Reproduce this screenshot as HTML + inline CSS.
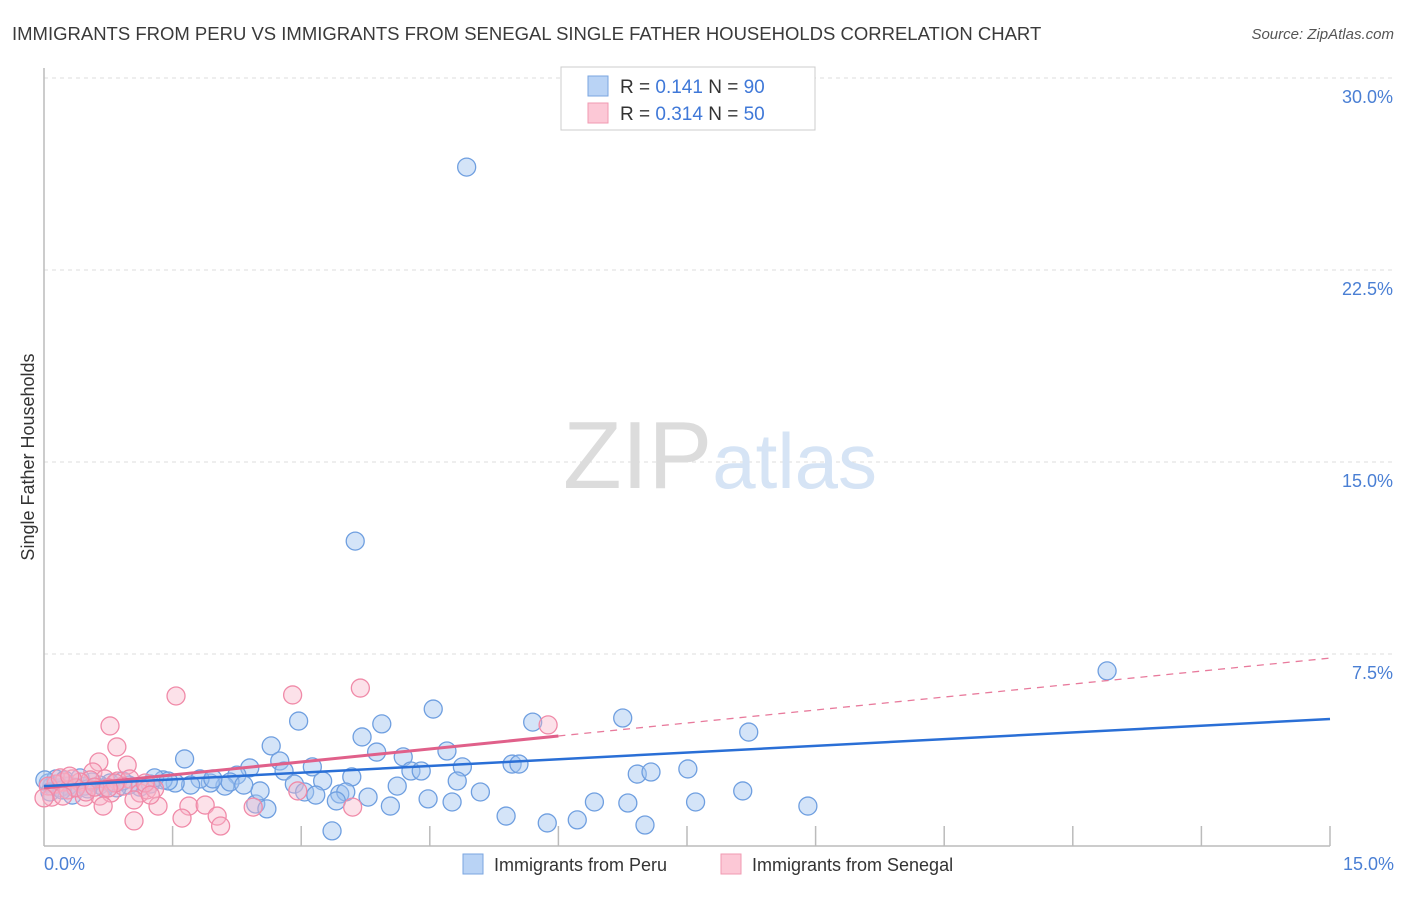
<!DOCTYPE html>
<html><head><meta charset="utf-8"><style>
body{margin:0;background:#fff;font-family:"Liberation Sans",sans-serif}
svg text{font-family:"Liberation Sans",sans-serif}
</style></head><body>
<svg id="chart" width="1406" height="892" viewBox="0 0 1406 892" xmlns="http://www.w3.org/2000/svg">
<text x="12" y="40" font-size="18.5" fill="#3a3a3a">IMMIGRANTS FROM PERU VS IMMIGRANTS FROM SENEGAL SINGLE FATHER HOUSEHOLDS CORRELATION CHART</text>
<text x="1394" y="39" font-size="15" fill="#555" font-style="italic" text-anchor="end">Source: ZipAtlas.com</text>
<g id="grid"></g>
<text x="720" y="488" font-size="96" text-anchor="middle" fill="#e6e6e6" font-family="Liberation Serif, serif"><tspan fill="#dcdcdc">ZIP</tspan><tspan fill="#d6e4f5" font-family="Liberation Sans, sans-serif" font-size="78">atlas</tspan></text>
<line x1="44" y1="68" x2="44" y2="846" stroke="#bbb" stroke-width="1.5"/>
<line x1="44" y1="846" x2="1330" y2="846" stroke="#bbb" stroke-width="1.5"/>
<g id="ticks"></g>
<g id="pts"></g>
<g id="trends"></g>
<text transform="translate(34,457) rotate(-90)" font-size="18" fill="#333" text-anchor="middle">Single Father Households</text>
<text x="44" y="870" font-size="18" fill="#4a7fd4">0.0%</text>
<text x="1394" y="870" font-size="18" fill="#4a7fd4" text-anchor="end">15.0%</text>
<g>
<rect x="561" y="67" width="254" height="63" fill="#fff" stroke="#ccc"/>
<rect x="588" y="76" width="20" height="20" fill="#b9d3f5" stroke="#7aa6e0"/>
<rect x="588" y="103" width="20" height="20" fill="#fcc8d6" stroke="#f09ab2"/>
<text x="620" y="93" font-size="19" fill="#333">R = <tspan fill="#3f78d8">0.141</tspan>   N = <tspan fill="#3f78d8">90</tspan></text>
<text x="620" y="120" font-size="19" fill="#333">R = <tspan fill="#3f78d8">0.314</tspan>   N = <tspan fill="#3f78d8">50</tspan></text>
</g>
<g>
<rect x="463" y="854" width="20" height="20" fill="#b9d3f5" stroke="#7aa6e0"/>
<text x="494" y="871" font-size="18" fill="#333">Immigrants from Peru</text>
<rect x="721" y="854" width="20" height="20" fill="#fcc8d6" stroke="#f09ab2"/>
<text x="752" y="871" font-size="18" fill="#333">Immigrants from Senegal</text>
</g>
</svg>
<script>
const peruX=[4.93,3.63,12.40,4.54,2.97,3.94,5.70,6.75,3.71,8.22,2.65,4.70,1.64,3.88,4.19,2.75,3.13,4.88,5.46,5.54,2.40,4.28,4.40,6.92,7.08,7.51,2.80,2.25,3.59,3.25,2.92,4.82,8.15,5.09,4.12,3.04,3.17,3.45,3.52,3.78,4.48,4.76,6.42,6.81,7.60,8.91,4.04,3.41,2.47,2.60,5.39,5.87,6.22,7.01,3.36,2.52,2.11,1.94,1.82,1.71,1.53,1.39,1.24,1.12,0.99,0.85,0.77,0.65,0.56,0.48,0.37,0.28,0.19,0.09,0.05,0.14,0.33,0.70,0.92,1.29,1.45,2.17,1.97,2.33,0.24,0.42,0.01,0.07,0.21,0.51];
const peruY=[26.52,11.91,6.84,5.35,4.88,4.77,4.84,5.00,4.26,4.45,3.91,3.71,3.40,3.67,3.48,3.32,3.09,3.09,3.20,3.20,3.05,2.93,2.93,2.81,2.89,3.01,2.93,2.77,2.70,2.54,2.42,2.54,2.15,2.11,2.34,2.11,1.99,2.03,2.11,1.91,1.84,1.72,1.72,1.68,1.72,1.56,1.56,1.76,1.64,1.45,1.17,0.90,1.02,0.82,0.59,2.15,2.34,2.46,2.62,2.38,2.46,2.58,2.42,2.30,2.38,2.27,2.46,2.38,2.50,2.34,2.30,2.34,2.27,2.34,2.46,2.62,1.99,2.27,2.54,2.66,2.54,2.50,2.62,2.38,2.58,2.66,2.58,2.11,2.19,2.23];
const senX=[1.54,2.90,3.69,0.77,0.85,0.97,0.64,5.88,0.57,0.71,0.86,1.00,0.54,0.42,0.33,0.23,0.14,0.05,0.09,0.47,0.65,0.78,1.12,1.20,1.29,1.05,1.33,1.69,1.88,2.02,1.61,2.06,1.05,0.69,0.92,0.28,0.19,0.37,0.49,0.59,2.44,3.60,2.96,0.00,0.22,0.30,0.83,1.18,1.24,0.75];
const senY=[5.86,5.90,6.17,4.69,3.87,3.16,3.28,4.73,2.89,2.62,2.54,2.62,2.58,2.50,2.62,2.50,2.42,2.34,1.91,1.91,1.95,2.07,2.07,2.19,2.23,1.80,1.56,1.56,1.60,1.17,1.09,0.78,0.98,1.56,2.34,2.19,2.66,2.27,2.11,2.30,1.52,1.52,2.15,1.88,1.95,2.73,2.46,2.46,1.99,2.27];
const yTicks=[7.5,15,22.5,30];
const yTickLabels=["7.5%","15.0%","22.5%","30.0%"];
const xTicks=[1.5,3,4.5,6,7.5,9,10.5,12,13.5,15];
const peruTrend=[2.34,4.96];
const senTrend=[2.27,7.34];
const senSolidEnd=6.0;

const NS="http://www.w3.org/2000/svg";
const xs=v=>44+v/15*1286;
const ys=v=>846-v/30*768;
function mk(tag,attrs,parent){const e=document.createElementNS(NS,tag);for(const k in attrs)e.setAttribute(k,attrs[k]);parent.appendChild(e);return e;}
const grid=document.getElementById('grid'),ticks=document.getElementById('ticks'),pts=document.getElementById('pts'),tr=document.getElementById('trends');
yTicks.forEach((v,i)=>{
  const l=mk('line',{x1:44,x2:1394,y1:ys(v),y2:ys(v),stroke:'#ddd','stroke-dasharray':'4,4'},grid);
  
  
  const t=mk('text',{x:1393,y:ys(v)+25,'font-size':18,fill:'#4a7fd4','text-anchor':'end'},grid);
  
  
  t.textContent=yTickLabels[i];
});
xTicks.forEach(v=>{
  const l=mk('line',{x1:xs(v),x2:xs(v),y1:826,y2:846,stroke:'#bbb','stroke-width':1.5},ticks);
  
  
});
peruX.forEach((x,i)=>{
  const c=mk('circle',{cx:xs(x),cy:ys(peruY[i]),r:9,fill:'rgba(160,196,240,0.45)',stroke:'#6f9fe0','stroke-width':1.3},pts);
  
  
});
senX.forEach((x,i)=>{
  const c=mk('circle',{cx:xs(x),cy:ys(senY[i]),r:9,fill:'rgba(248,180,200,0.4)',stroke:'#f08aa8','stroke-width':1.3},pts);
  
  
});
const sAt=x=>senTrend[0]+(senTrend[1]-senTrend[0])*x/15;
let l=mk('line',{x1:xs(senSolidEnd),y1:ys(sAt(senSolidEnd)),x2:xs(15),y2:ys(senTrend[1]),stroke:'#e87a9c','stroke-width':1.3,'stroke-dasharray':'7,6'},tr);


l=mk('line',{x1:xs(0),y1:ys(senTrend[0]),x2:xs(senSolidEnd),y2:ys(sAt(senSolidEnd)),stroke:'#e0608a','stroke-width':3},tr);


l=mk('line',{x1:xs(0),y1:ys(peruTrend[0]),x2:xs(15),y2:ys(peruTrend[1]),stroke:'#2a6fd6','stroke-width':2.5},tr);


</script>
</body></html>
